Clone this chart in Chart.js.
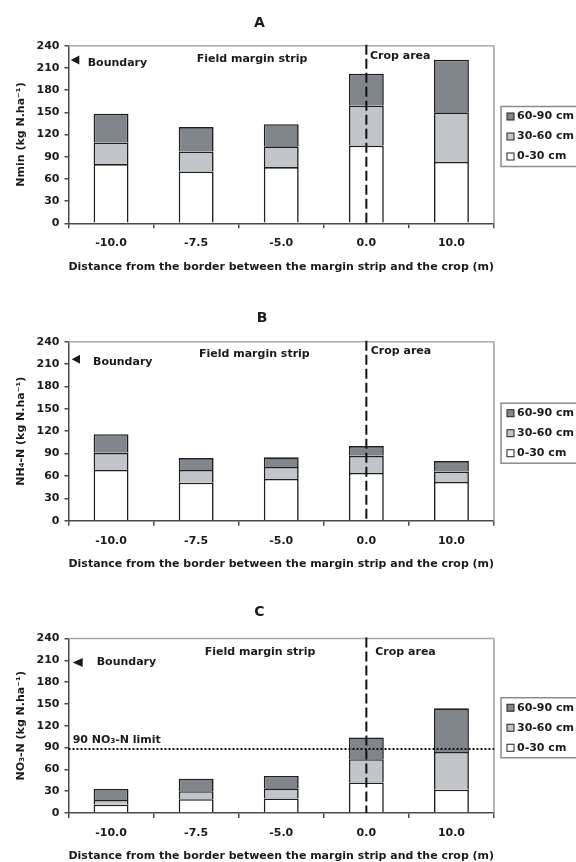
<!DOCTYPE html>
<html>
<head>
<title>Soil mineral N profiles</title>
<style>
  body { margin: 0; background: #fff; }
  .wrap { position: relative; width: 576px; height: 862px; overflow: hidden; }
  .wrap canvas { position: absolute; left: 0; top: 0; }
</style>
</head>
<body>
<div class="wrap">
  <canvas id="chartA" width="576" height="862"></canvas>
  <canvas id="chartB" width="576" height="862"></canvas>
  <canvas id="chartC" width="576" height="862"></canvas>
</div>

<script src="https://cdn.jsdelivr.net/npm/chart.js"></script>
<script>
// distance classes (m)
const distances = ['-10.0', '-7.5', '-5.0', '0.0', '10.0'];
const depthLabels = ['0-30 cm', '30-60 cm', '60-90 cm'];
const yMax = 240;
const yStep = 30;

// A: Nmin (kg N/ha) per depth layer
const nmin0to30 = [80, 70, 76, 105, 83];
const nmin30to60 = [29, 27, 28, 54, 67];
const nmin60to90 = [39, 33, 30, 43, 71];

// B: NH4-N
const nh4_0to30 = [68, 51, 56, 64, 52];
const nh4_30to60 = [23, 17, 16, 23, 14];
const nh4_60to90 = [25, 16, 13, 13, 14];

// C: NO3-N
const no3_0to30 = [11.5, 19, 20, 42, 32];
const no3_30to60 = [6.5, 11, 14, 32, 52];
const no3_60to90 = [15, 17, 17, 30, 60];
const no3Limit = 88;

const FONT = '"DejaVu Sans", sans-serif';
const FS = 11;
const layerColors = ['#ffffff', '#c2c5ca', '#80868b'];
const xTitle = 'Distance from the border between the margin strip and the crop (m)';

// frame, annotations, border line and legend
const decor = {
  id: 'decor',
  afterDatasetsDraw(chart, args, o) {
    const { ctx, chartArea: a, scales: { x, y } } = chart;
    ctx.save();
    ctx.lineWidth = 1.5;
    ctx.strokeStyle = '#a4aab1';
    ctx.beginPath(); ctx.moveTo(a.left, a.top); ctx.lineTo(a.right, a.top); ctx.stroke();
    ctx.strokeStyle = '#9b9b9b';
    ctx.beginPath(); ctx.moveTo(a.right, a.top); ctx.lineTo(a.right, a.bottom); ctx.stroke();

    // margin strip / crop border
    const bx = x.getPixelForValue(distances.indexOf('0.0'));
    ctx.strokeStyle = '#111';
    ctx.lineWidth = 2;
    ctx.setLineDash([10, 4]);
    ctx.beginPath(); ctx.moveTo(bx, a.top - 1); ctx.lineTo(bx, a.bottom); ctx.stroke();

    ctx.font = 'bold ' + FS + 'px ' + FONT;
    ctx.fillStyle = '#1a1a1a';
    ctx.textBaseline = 'middle';
    ctx.textAlign = 'left';

    if (o.limit != null) {
      const ly = y.getPixelForValue(o.limit);
      ctx.lineWidth = 2;
      ctx.setLineDash([2, 2]);
      ctx.beginPath(); ctx.moveTo(a.left, ly); ctx.lineTo(a.right, ly); ctx.stroke();
      ctx.fillText(o.limitText, o.limitAt[0], o.limitAt[1]);
    }
    ctx.setLineDash([]);

    o.notes.forEach(n => ctx.fillText(n[0], n[1], n[2]));

    // boundary arrow
    const t = o.arrow;
    ctx.beginPath();
    ctx.moveTo(t[0], t[2]);
    ctx.lineTo(t[1], t[2] - 4.5);
    ctx.lineTo(t[1], t[2] + 4.5);
    ctx.closePath();
    ctx.fill();

    // panel letter
    ctx.font = 'bold 14px ' + FONT;
    ctx.textAlign = 'center';
    ctx.fillText(o.letter, o.letterAt[0], o.letterAt[1]);

    // legend box (runs off the right edge)
    const cy = (a.top + a.bottom) / 2 + 2;
    ctx.strokeStyle = '#8c8c8c';
    ctx.lineWidth = 1.5;
    ctx.fillStyle = '#fff';
    ctx.fillRect(501, cy - 30, 90, 60);
    ctx.strokeRect(501, cy - 30, 90, 60);
    ctx.font = 'bold ' + FS + 'px ' + FONT;
    ctx.textAlign = 'left';
    const ds = chart.data.datasets.slice().reverse();
    ds.forEach((d, i) => {
      const ry = cy - 20 + i * 20;
      ctx.fillStyle = d.backgroundColor;
      ctx.fillRect(507, ry - 3.5, 7, 7);
      ctx.strokeStyle = '#222';
      ctx.lineWidth = 1;
      ctx.strokeRect(507, ry - 3.5, 7, 7);
      ctx.fillStyle = '#1a1a1a';
      ctx.fillText(d.label, 517, ry);
    });
    ctx.restore();
  }
};

function panel(id, yLabel, layers, plotTop, plotBottom, decorOpts) {
  const tickFont = { family: FONT, size: FS, weight: 'bold' };
  const half = FS * 1.2 / 2;
  return new Chart(document.getElementById(id), {
    type: 'bar',
    data: {
      labels: distances,
      datasets: layers.map((vals, i) => ({
        label: depthLabels[i],
        data: vals,
        backgroundColor: layerColors[i],
        borderColor: '#1e1e1e',
        borderWidth: 1.6,
        borderSkipped: 'start',
        barPercentage: 0.41,
        categoryPercentage: 1
      }))
    },
    options: {
      responsive: false,
      animation: false,
      layout: { padding: { top: plotTop, left: 0, right: 576 - 494, bottom: 862 - plotBottom - 43.4 - half } },
      plugins: {
        legend: { display: false },
        tooltip: { enabled: false },
        decor: decorOpts
      },
      scales: {
        x: {
          stacked: true,
          grid: { drawOnChartArea: false, tickLength: 5, color: '#4a4a4a', lineWidth: 1.5 },
          border: { color: '#4a4a4a', width: 1.5 },
          ticks: { font: tickFont, color: '#1a1a1a', padding: 20 - 5 - half, maxRotation: 0, autoSkip: false },
          title: { display: true, text: xTitle, font: tickFont, color: '#1a1a1a', padding: 0 },
          afterFit(s) { s.height = 43.4 + half; }
        },
        y: {
          stacked: true,
          min: 0,
          max: yMax,
          grid: { drawOnChartArea: false, tickLength: 4, color: '#4a4a4a', lineWidth: 1.5 },
          border: { color: '#4a4a4a', width: 1.5 },
          ticks: { stepSize: yStep, font: tickFont, color: '#1a1a1a', padding: 5 },
          title: { display: true, text: yLabel, font: tickFont, color: '#1a1a1a', padding: { top: 21 - half, bottom: 0 } },
          afterFit(s) { s.width = 68.5; }
        }
      }
    },
    plugins: [decor]
  });
}

panel('chartA', 'Nmin (kg N.ha\u207B\u00B9)', [nmin0to30, nmin30to60, nmin60to90], 45.7, 223.3, {
  letter: 'A', letterAt: [259.5, 23],
  arrow: [70.7, 79.3, 60],
  notes: [['Boundary', 87.7, 63.3], ['Field margin strip', 196.7, 59], ['Crop area', 370, 56]]
});

panel('chartB', 'NH\u2084-N (kg N.ha\u207B\u00B9)', [nh4_0to30, nh4_30to60, nh4_60to90], 341.7, 520.7, {
  letter: 'B', letterAt: [262, 318],
  arrow: [71.7, 80, 359.3],
  notes: [['Boundary', 93, 362], ['Field margin strip', 199, 354.3], ['Crop area', 370.7, 350.7]]
});

panel('chartC', 'NO\u2083-N (kg N.ha\u207B\u00B9)', [no3_0to30, no3_30to60, no3_60to90], 638.5, 813, {
  letter: 'C', letterAt: [259.5, 612],
  arrow: [72.7, 82.7, 662.5],
  notes: [['Boundary', 96.7, 662], ['Field margin strip', 204.7, 651.7], ['Crop area', 375.3, 651.7]],
  limit: no3Limit, limitText: '90 NO\u2083-N limit', limitAt: [72.7, 740]
});
</script>
</body>
</html>
